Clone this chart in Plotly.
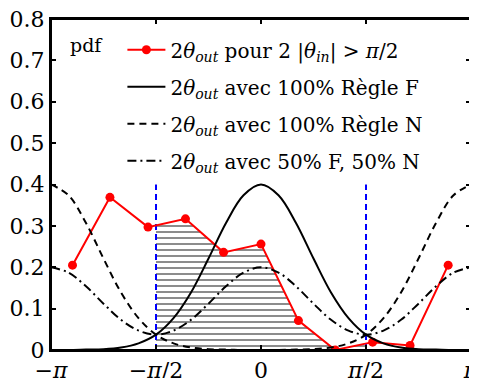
import numpy as np
import plotly.graph_objects as go

PI = np.pi

# histogramme mesuré (points rouges)
red_x = [-2.82, -2.26, -1.69, -1.13, -0.56, 0.0, 0.56, 1.11, 1.67, 2.23, 2.80]
red_y = [0.205, 0.369, 0.297, 0.317, 0.236, 0.256, 0.071, 0.0, 0.019, 0.011, 0.205]

# courbes théoriques, échantillonnées tous les pi/12
k_steps = list(range(-12, 13))
curve_x = [k * PI / 12 for k in k_steps]
regle_f = [0.000, 0.000, 0.001, 0.002, 0.006, 0.016, 0.037, 0.077, 0.139, 0.221, 0.307, 0.374, 0.400,
           0.374, 0.307, 0.221, 0.139, 0.077, 0.037, 0.016, 0.006, 0.002, 0.001, 0.000, 0.000]
regle_n = [0.400, 0.374, 0.307, 0.221, 0.139, 0.077, 0.037, 0.016, 0.006, 0.002, 0.001, 0.000, 0.000,
           0.000, 0.001, 0.002, 0.006, 0.016, 0.037, 0.077, 0.139, 0.221, 0.307, 0.374, 0.400]
mix_fn = [0.200, 0.187, 0.154, 0.112, 0.073, 0.047, 0.037, 0.047, 0.073, 0.112, 0.154, 0.187, 0.200,
          0.187, 0.154, 0.112, 0.073, 0.047, 0.037, 0.047, 0.073, 0.112, 0.154, 0.187, 0.200]

tick_vals = [-PI, -PI / 2, 0, PI / 2, PI]
tick_text = ["−<i>π</i>", "−<i>π</i>/2", "0", "<i>π</i>/2", "<i>π</i>"]

label_out = "2<i>θ</i><sub><i>out</i></sub>"
noms = [
    label_out + " pour 2 |<i>θ</i><sub><i>in</i></sub>| > <i>π</i>/2",
    label_out + " avec 100% Règle F",
    label_out + " avec 100% Règle N",
    label_out + " avec 50% F, 50% N",
]

FONT = "DejaVu Serif"

# zone hachurée sous la courbe rouge entre -pi/2 et pi/2
hatch_x = [-PI / 2] + [v for v in red_x if -PI / 2 < v < PI / 2] + [PI / 2]
hatch_y = list(np.interp(hatch_x, red_x, red_y))

fig = go.Figure()
fig.add_trace(go.Scatter(
    x=hatch_x, y=hatch_y, mode="none", fill="tozeroy",
    fillcolor="rgba(0,0,0,0)",
    fillpattern=dict(shape="-", size=6, solidity=0.3, fgcolor="black", bgcolor="white"),
    showlegend=False, hoverinfo="skip"))

for xv in [-PI / 2, PI / 2]:
    fig.add_trace(go.Scatter(x=[xv, xv], y=[0, 0.4], mode="lines",
                             line=dict(color="blue", width=2, dash="6px,4px"),
                             showlegend=False))

fig.add_trace(go.Scatter(x=red_x, y=red_y, mode="lines+markers", name=noms[0],
                         line=dict(color="red", width=2), marker=dict(size=9, color="red"),
                         legendgroup="a"))
fig.add_trace(go.Scatter(x=curve_x, y=regle_f, mode="lines", name=noms[1], line_shape="spline",
                         line=dict(color="black", width=2), legendgroup="b"))
fig.add_trace(go.Scatter(x=curve_x, y=regle_n, mode="lines", name=noms[2], line_shape="spline",
                         line=dict(color="black", width=2, dash="7px,5px"), legendgroup="c"))
fig.add_trace(go.Scatter(x=curve_x, y=mix_fn, mode="lines", name=noms[3], line_shape="spline",
                         line=dict(color="black", width=2, dash="9px,4px,2px,4px"), legendgroup="d"))

axis_style = dict(showline=True, linecolor="black", linewidth=2, mirror="allticks",
                  ticks="inside", ticklen=5, tickwidth=1.5, tickcolor="black",
                  showgrid=False, zeroline=False, automargin=False, ticklabeloverflow="allow",
                  tickfont=dict(family=FONT, size=22, color="black"))

fig.update_xaxes(range=[-PI, PI], tickvals=tick_vals, ticktext=tick_text, ticklabelstandoff=0,
                 **axis_style)
fig.update_yaxes(range=[0, 0.8], tickvals=[0, 0.1, 0.2, 0.3, 0.4, 0.5, 0.6, 0.7, 0.8],
                 ticktext=["0", "0.1", "0.2", "0.3", "0.4", "0.5", "0.6", "0.7", "0.8"], **axis_style)

# cadre
fig.add_shape(type="rect", xref="paper", yref="paper", x0=0, y0=0, x1=1, y1=1,
              line=dict(color="black", width=2), layer="above")

fig.add_annotation(text="pdf", x=0.04, y=0.92, xref="paper", yref="paper", showarrow=False,
                   xanchor="left", yanchor="middle", font=dict(family=FONT, size=19, color="black"))

# la page ajoute une marge de 8 px autour de la figure
fig.update_layout(
    width=469, height=370,
    margin=dict(l=43, r=6, t=11, b=28),
    plot_bgcolor="white", paper_bgcolor="white",
    legend=dict(x=0.17, y=0.966, xanchor="left", yanchor="top", bgcolor="rgba(0,0,0,0)",
                traceorder="grouped", tracegroupgap=8, itemwidth=38,
                font=dict(family=FONT, size=20, color="black")),
)

fig.write_html("out.html")
